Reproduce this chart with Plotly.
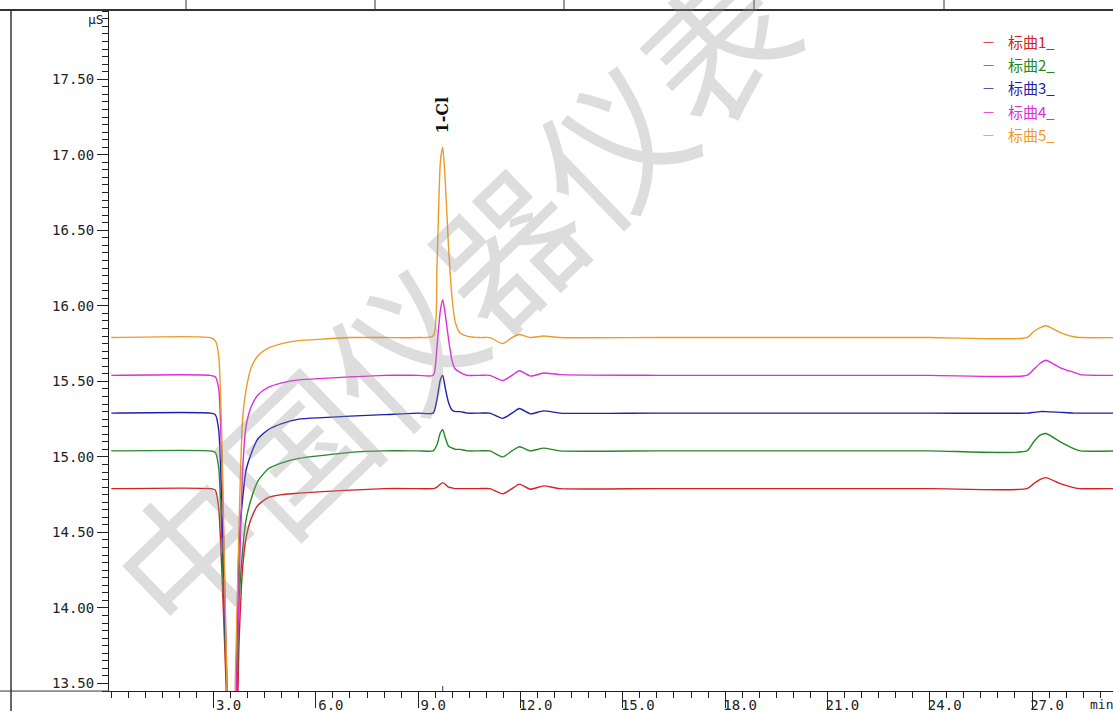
import plotly.graph_objects as go

# ---------------- data ----------------
time_min = [0.0, 2.9, 3.05, 3.15, 3.25, 3.35, 3.45, 3.55, 3.65, 3.75, 3.85, 3.95,
            4.1, 4.3, 4.6, 5.0, 5.5, 6.2, 7.0, 8.0, 9.0, 9.44, 9.55, 9.65, 9.72,
            9.79, 9.89, 9.99, 10.09, 10.23, 10.43, 10.8, 11.1, 11.48, 11.75, 11.97,
            12.29, 12.68, 13.16, 16.0, 20.0, 24.0, 26.85, 27.05, 27.24, 27.41,
            27.83, 28.22, 28.42, 29.5]

curve1 = [14.79, 14.79, 14.78, 14.66, 14.20, 13.60, 13.00, 12.70, 12.90, 13.79, 14.26, 14.46,
          14.59, 14.68, 14.73, 14.75, 14.76, 14.77, 14.78, 14.79, 14.79, 14.79, 14.80, 14.82, 14.83,
          14.82, 14.80, 14.795, 14.79, 14.79, 14.79, 14.79, 14.79, 14.755, 14.79, 14.82,
          14.786, 14.808, 14.79, 14.79, 14.79, 14.79, 14.79, 14.823, 14.852, 14.863,
          14.823, 14.797, 14.79, 14.79]

curve2 = [15.04, 15.04, 15.03, 14.93, 14.40, 13.70, 13.05, 12.75, 13.10, 14.05, 14.38, 14.58,
          14.72, 14.84, 14.92, 14.96, 14.99, 15.01, 15.03, 15.04, 15.04, 15.04, 15.08, 15.16, 15.18,
          15.13, 15.07, 15.06, 15.05, 15.05, 15.04, 15.04, 15.04, 15.00, 15.04, 15.067,
          15.04, 15.058, 15.04, 15.04, 15.04, 15.04, 15.04, 15.10, 15.144, 15.155,
          15.10, 15.055, 15.04, 15.04]

curve3 = [15.29, 15.29, 15.28, 15.18, 14.62, 13.80, 13.05, 12.80, 13.25, 14.45, 14.72, 14.91,
          15.02, 15.12, 15.18, 15.22, 15.25, 15.26, 15.27, 15.28, 15.29, 15.29, 15.38, 15.51, 15.54,
          15.46, 15.36, 15.31, 15.30, 15.30, 15.29, 15.29, 15.29, 15.255, 15.29, 15.32,
          15.285, 15.305, 15.29, 15.29, 15.29, 15.29, 15.29, 15.295, 15.30, 15.30,
          15.295, 15.29, 15.29, 15.29]

curve4 = [15.54, 15.54, 15.53, 15.45, 14.90, 13.90, 13.10, 12.80, 13.30, 14.15, 14.90, 15.20,
          15.33, 15.41, 15.46, 15.49, 15.51, 15.52, 15.53, 15.54, 15.54, 15.54, 15.73, 15.97, 16.04,
          15.95, 15.78, 15.64, 15.58, 15.56, 15.54, 15.54, 15.54, 15.505, 15.54, 15.57,
          15.535, 15.555, 15.545, 15.54, 15.54, 15.54, 15.54, 15.58, 15.62, 15.64,
          15.59, 15.56, 15.545, 15.54]

curve5 = [15.79, 15.79, 15.77, 15.67, 15.05, 13.92, 13.00, 12.80, 13.65, 14.58, 15.25, 15.44,
          15.59, 15.67, 15.72, 15.75, 15.77, 15.78, 15.79, 15.79, 15.79, 15.80, 16.26, 16.95, 17.05,
          16.84, 16.39, 16.06, 15.89, 15.82, 15.80, 15.79, 15.79, 15.75, 15.79, 15.81,
          15.79, 15.80, 15.79, 15.79, 15.79, 15.79, 15.79, 15.83, 15.856, 15.868,
          15.823, 15.795, 15.79, 15.79]

series_names = ["标曲1_", "标曲2_", "标曲3_", "标曲4_", "标曲5_"]
series_values = [curve1, curve2, curve3, curve4, curve5]
series_colors = ["#d42222", "#238a23", "#1f1fb0", "#dc2edc", "#ee9a2a"]

peak_label = "1-Cl"
peak_time = 9.72
peak_value = 17.05

x_tick_values = [3.0, 6.0, 9.0, 12.0, 15.0, 18.0, 21.0, 24.0, 27.0]
y_tick_values = [13.5, 14.0, 14.5, 15.0, 15.5, 16.0, 16.5, 17.0, 17.5]

# ---------------- layout helpers (pixel -> paper) ----------------
W, H = 1113, 713
PL, PR, PT, PB = 109, 1113, 11, 693


def px(x):
    return x / W


def py(y):
    return (H - y) / H


fig = go.Figure()
for name, vals, col in zip(series_names, series_values, series_colors):
    fig.add_trace(go.Scatter(
        x=time_min, y=vals, name=name, mode="lines",
        line=dict(color=col, width=1.4, shape="spline", smoothing=0.6),
        showlegend=False, cliponaxis=True,
    ))

mono = "DejaVu Sans Mono"
axis_col = "#222222"

fig.update_layout(
    width=W, height=H, autosize=False,
    margin=dict(l=0, r=0, t=0, b=0),
    paper_bgcolor="white", plot_bgcolor="white",
    xaxis=dict(
        domain=[PL / W, 1.0], range=[-0.067, 29.375],
        showgrid=False, zeroline=False, showline=True, linecolor=axis_col, linewidth=1,
        tickmode="array", tickvals=x_tick_values,
        ticktext=[f"{v:.1f}" for v in x_tick_values],
        ticks="outside", ticklen=16, tickcolor=axis_col, tickwidth=1,
        ticklabelshift=15, ticklabelstandoff=-15,
        tickfont=dict(family=mono, size=14, color=axis_col),
        minor=dict(tickmode="linear", tick0=0, dtick=0.5, ticks="outside",
                   ticklen=6, tickcolor=axis_col, tickwidth=1),
    ),
    yaxis=dict(
        domain=[(H - PB) / H, (H - PT) / H], range=[13.450, 17.952],
        showgrid=False, zeroline=False, showline=True, linecolor=axis_col, linewidth=1,
        tickmode="array", tickvals=y_tick_values,
        ticktext=[f"{v:.2f}" for v in y_tick_values],
        ticks="outside", ticklen=11, tickcolor=axis_col, tickwidth=1,
        tickfont=dict(family=mono, size=14, color=axis_col),
        minor=dict(tickmode="linear", tick0=13.5, dtick=0.05, ticks="outside",
                   ticklen=6, tickcolor=axis_col, tickwidth=1),
    ),
)

# frame lines around the plot
shapes = []
line_col = "#333333"
shapes.append(dict(type="line", xref="paper", yref="paper", x0=px(0), x1=px(W), y0=py(10), y1=py(10),
                   line=dict(color=line_col, width=2)))
for sx in [186, 375, 564, 754, 944]:
    shapes.append(dict(type="line", xref="paper", yref="paper", x0=px(sx), x1=px(sx), y0=py(0), y1=py(9),
                       line=dict(color=line_col, width=1)))
shapes.append(dict(type="line", xref="paper", yref="paper", x0=px(11), x1=px(11), y0=py(10), y1=py(H),
                   line=dict(color=line_col, width=1.5)))
shapes.append(dict(type="line", xref="paper", yref="paper", x0=px(0), x1=px(PL), y0=py(PB), y1=py(PB),
                   line=dict(color=line_col, width=1)))
# small peak marker above the time axis at the labelled peak
shapes.append(dict(type="line", xref="x", yref="paper", x0=peak_time, x1=peak_time,
                   y0=py(PB), y1=py(PB - 5), line=dict(color=line_col, width=1)))
fig.update_layout(shapes=shapes)

annotations = []
# watermark
annotations.append(dict(text="中国仪器仪表", xref="paper", yref="paper", x=px(450), y=py(296),
                        showarrow=False, textangle=-44,
                        font=dict(family="Noto Sans CJK SC", size=146, color="rgba(150,150,150,0.32)")))
# unit label
annotations.append(dict(text="μS", xref="paper", yref="paper", x=px(106), y=py(20), xanchor="right",
                        yanchor="middle", showarrow=False,
                        font=dict(family=mono, size=13, color=axis_col)))
# x unit label
annotations.append(dict(text="min", xref="paper", yref="paper", x=px(1088), y=py(706), xanchor="left",
                        yanchor="middle", showarrow=False,
                        font=dict(family=mono, size=13, color=axis_col)))
# peak label
annotations.append(dict(text=f"<b>{peak_label}</b>", xref="x", yref="y", x=peak_time, y=peak_value,
                        xanchor="center", yanchor="bottom", yshift=12, showarrow=False, textangle=-90,
                        font=dict(family="DejaVu Serif", size=16, color="#111111")))
# legend built from series names/colours
legend_y = [42, 65, 88, 112, 135]
for name, col, ly in zip(series_names, series_colors, legend_y):
    annotations.append(dict(text="—", xref="paper", yref="paper", x=px(988), y=py(ly),
                            xanchor="center", yanchor="middle", showarrow=False,
                            font=dict(family="DejaVu Sans", size=11, color=col)))
    annotations.append(dict(text=name, xref="paper", yref="paper", x=px(1006), y=py(ly),
                            xanchor="left", yanchor="middle", showarrow=False,
                            font=dict(family="Noto Sans CJK SC", size=15, color=col)))
fig.update_layout(annotations=annotations)

fig.write_html("out.html")
